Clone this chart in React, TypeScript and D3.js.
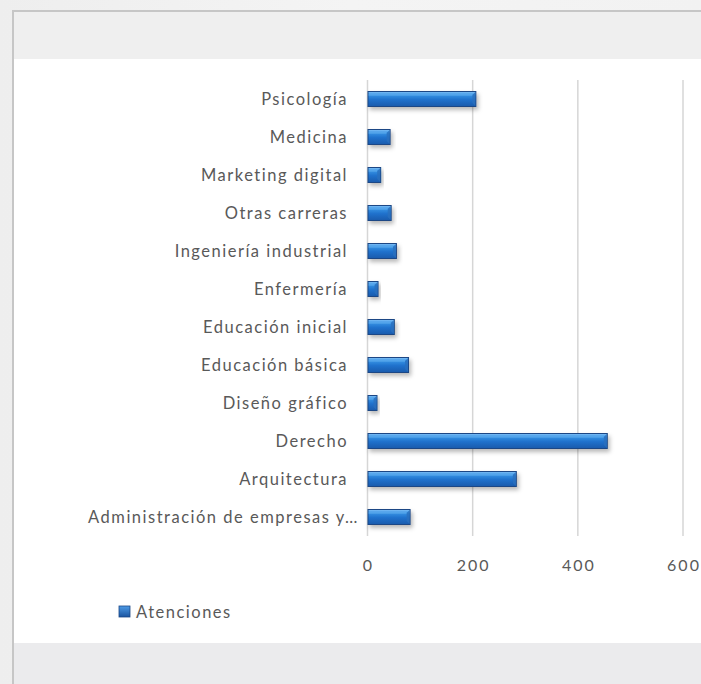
import React from "react";
import * as d3 from "d3";

const categories = [
  "Psicología",
  "Medicina",
  "Marketing digital",
  "Otras carreras",
  "Ingeniería industrial",
  "Enfermería",
  "Educación inicial",
  "Educación básica",
  "Diseño gráfico",
  "Derecho",
  "Arquitectura",
  "Administración de empresas y…",
];
const values = [207, 44, 26, 46, 56, 21, 52, 79, 19, 457, 284, 82];
const ticks = [0, 200, 400, 600];
const seriesName = "Atenciones";

const W = 701;
const H = 684;
const FONT = "Lato, 'Open Sans', sans-serif";
const LS = 1.5;

export default function App() {
  const x = d3.scaleLinear().domain([0, 600]).range([367.5, 683]);
  const p = 0.579;
  const y = d3
    .scaleBand<string>()
    .domain(categories)
    .range([80, 536])
    .paddingInner(p)
    .paddingOuter(p / 2);
  const bw = y.bandwidth();

  return (
    <svg
      width={W}
      height={H}
      style={{ position: "fixed", left: 0, top: 0, display: "block" }}
      fontFamily={FONT}
    >
      <defs>
        <linearGradient id="bg" x1="0" y1="0" x2="1" y2="0">
          <stop offset="0" stopColor="#eeeeee" />
          <stop offset="0.5" stopColor="#f4f4f4" />
          <stop offset="1" stopColor="#f2f2f2" />
        </linearGradient>
        <linearGradient id="barGrad" x1="0" y1="0" x2="0" y2="1">
          <stop offset="0" stopColor="#79bcf5" />
          <stop offset="0.22" stopColor="#3590e2" />
          <stop offset="0.55" stopColor="#1f71cc" />
          <stop offset="1" stopColor="#1a5cae" />
        </linearGradient>
        <linearGradient id="legGrad" x1="0" y1="0" x2="0" y2="1">
          <stop offset="0" stopColor="#4d9be6" />
          <stop offset="1" stopColor="#1a54a0" />
        </linearGradient>
        <filter id="shadow" x="-10%" y="-50%" width="130%" height="220%">
          <feDropShadow dx="2" dy="3" stdDeviation="2" floodColor="#000" floodOpacity="0.28" />
        </filter>
      </defs>

      {/* outer background */}
      <rect x={0} y={0} width={W} height={H} fill="url(#bg)" />
      {/* frame */}
      <rect x={13} y={11} width={W} height={H} fill="#efefef" stroke="#c6c6c6" strokeWidth={2} />
      {/* white plot panel */}
      <rect x={14} y={59} width={W - 14} height={584} fill="#ffffff" />
      {/* bottom band */}
      <rect x={14} y={643} width={W - 14} height={H - 643} fill="#ebebed" />

      {/* gridlines */}
      {ticks.map((t) => (
        <line
          key={"g" + t}
          x1={x(t)}
          x2={x(t)}
          y1={80}
          y2={536}
          stroke="#d6d6d6"
          strokeWidth={1.5}
        />
      ))}

      {/* tick labels */}
      {ticks.map((t) => (
        <text
          key={"t" + t}
          x={x(t) + 1}
          y={564}
          textAnchor="middle"
          dominantBaseline="central"
          fontSize={16}
          letterSpacing={2}
          fill="#595959"
        >
          {t}
        </text>
      ))}

      {/* bars */}
      {categories.map((c, i) => {
        const y0 = y(c)!;
        const x0 = x(0);
        const w = x(values[i]) - x0;
        return (
          <g key={"b" + c}>
            <rect
              x={x0}
              y={y0}
              width={w}
              height={bw}
              fill="#1b4785"
              filter="url(#shadow)"
            />
            <rect
              x={x0 + 1}
              y={y0 + 1}
              width={Math.max(0, w - 2)}
              height={bw - 2}
              fill="url(#barGrad)"
            />
            <polygon
              points={`${x0 + w - 1},${y0 + 1} ${x0 + w - 4},${y0 + 4} ${x0 + w - 4},${y0 + bw - 4} ${x0 + w - 1},${y0 + bw - 1}`}
              fill="#2a6fbd"
              opacity={0.8}
            />
            <line
              x1={x0 + 1}
              x2={x0 + w - 4}
              y1={y0 + 4}
              y2={y0 + 4}
              stroke="#7cc0f6"
              strokeWidth={1}
              opacity={0.6}
            />
          </g>
        );
      })}

      {/* category labels */}
      {categories.map((c) => {
        const truncated = c.endsWith("…");
        return (
          <text
            key={"l" + c}
            x={(truncated ? x(0) - 10 : x(0) - 21) + LS}
            y={y(c)! + bw / 2}
            textAnchor="end"
            dominantBaseline="central"
            fontSize={16.5}
            letterSpacing={LS}
            fill="#595959"
          >
            {c}
          </text>
        );
      })}

      {/* legend */}
      <rect x={119} y={606} width={11} height={11} fill="url(#legGrad)" stroke="#1b4785" strokeWidth={0.8} />
      <text x={136} y={612} dominantBaseline="central" fontSize={16.5} letterSpacing={LS} fill="#595959">
        {seriesName}
      </text>
    </svg>
  );
}
